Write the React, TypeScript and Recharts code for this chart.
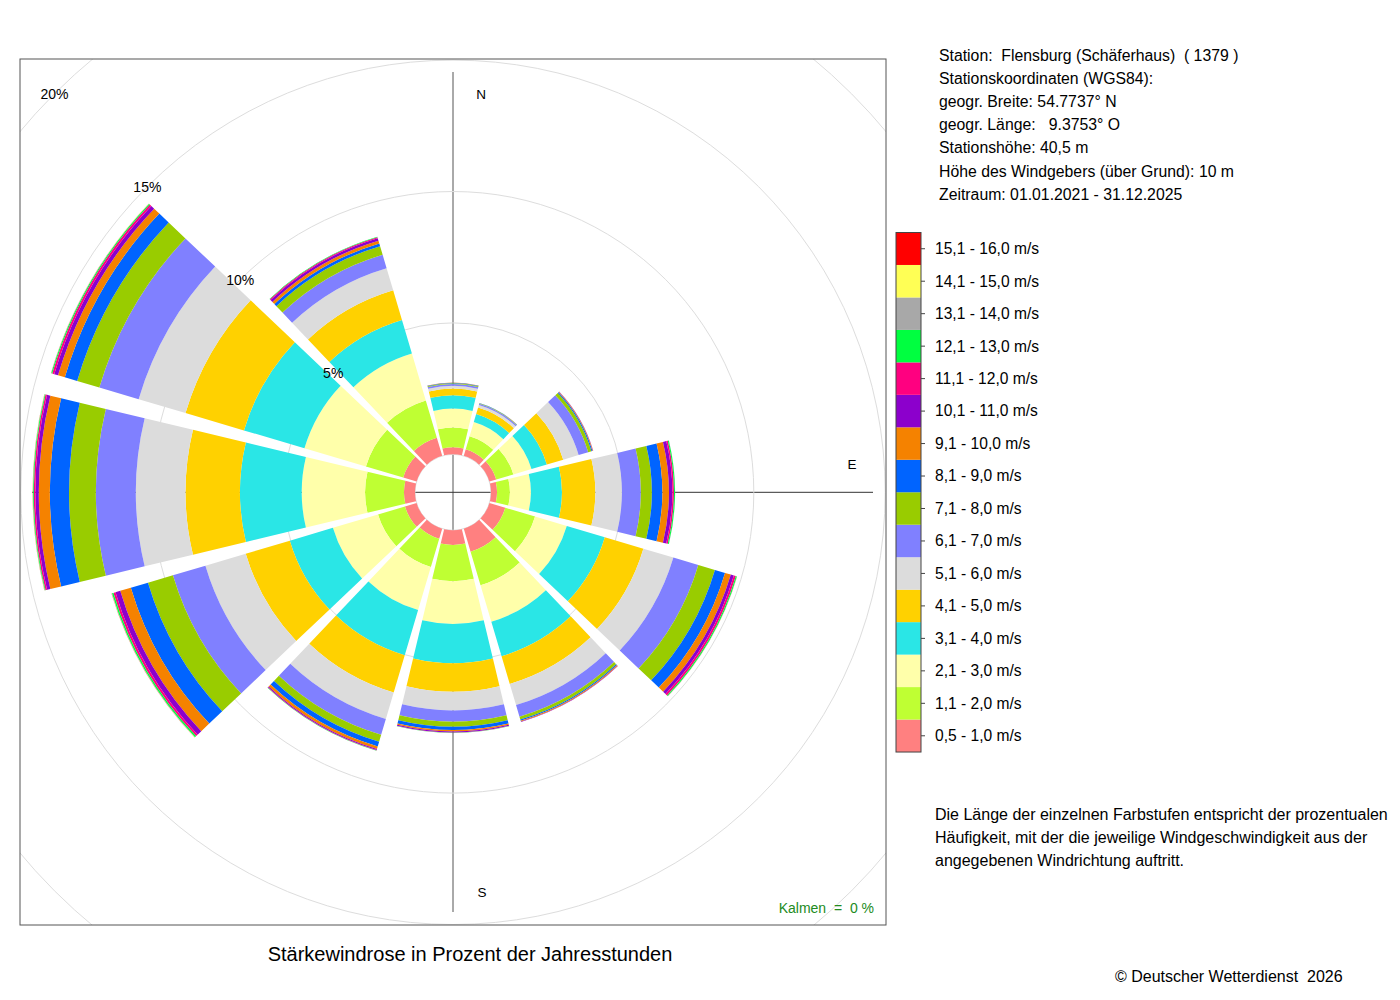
import React from "react";
import {
  PolarAngleAxis,
  PolarGrid,
  PolarRadiusAxis,
  RadialBar,
  RadialBarChart,
} from "recharts";

// Windrichtungen (12 Sektoren à 30°, im Uhrzeigersinn ab Nord)
const directions = ["N", "NNO", "ONO", "O", "OSO", "SSO", "S", "SSW", "WSW", "W", "WNW", "NNW"];

// Anteil je Geschwindigkeitsstufe in % der Jahresstunden, Reihenfolge wie directions
const f05_10 = [0.27, 0.26, 0.27, 0.23, 0.63, 0.91, 0.56, 0.4, 0.46, 0.42, 0.53, 0.72];
const f11_20 = [0.75, 0.52, 0.68, 0.49, 1.18, 1.33, 1.38, 1.12, 1.07, 1.48, 1.48, 1.48];
const f21_30 = [0.72, 0.56, 0.72, 0.8, 1.26, 1.45, 1.62, 1.71, 1.79, 2.41, 2.44, 1.86];
const f31_40 = [0.51, 0.32, 0.61, 1.18, 1.51, 1.37, 1.5, 1.79, 1.71, 2.35, 2.4, 1.33];
const f41_50 = [0.25, 0.26, 0.65, 1.27, 1.53, 1.1, 1.08, 1.48, 1.75, 2.07, 2.32, 1.18];
const f51_60 = [0.11, 0.1, 0.61, 1.01, 1.19, 0.84, 0.71, 1.05, 1.6, 1.89, 1.86, 0.88];
const f61_70 = [0.06, 0.05, 0.38, 0.72, 0.99, 0.46, 0.43, 0.63, 1.29, 1.52, 1.56, 0.53];
const f71_80 = [0.03, 0.015, 0.13, 0.42, 0.66, 0.11, 0.19, 0.27, 0.99, 1.02, 0.88, 0.34];
const f81_90 = [0.02, 0.01, 0.04, 0.4, 0.4, 0.05, 0.13, 0.19, 0.68, 0.73, 0.49, 0.11];
const f91_100 = [0.01, 0.005, 0.02, 0.25, 0.23, 0.03, 0.05, 0.1, 0.42, 0.42, 0.27, 0.11];
const f101_110 = [0, 0, 0.01, 0.13, 0.12, 0.015, 0.04, 0.04, 0.19, 0.13, 0.15, 0.1];
const f111_120 = [0, 0, 0, 0.06, 0.08, 0.005, 0.01, 0.02, 0.08, 0.06, 0.08, 0.04];
const f121_130 = [0, 0, 0, 0.04, 0.04, 0, 0.005, 0.01, 0.06, 0.03, 0.04, 0.02];
const f131_140 = [0, 0, 0, 0.005, 0.005, 0, 0, 0, 0.01, 0.01, 0.01, 0];
const f141_150 = [0, 0, 0, 0, 0.003, 0, 0, 0, 0.005, 0.005, 0.003, 0];
const f151_160 = [0, 0, 0, 0, 0.003, 0, 0, 0, 0.005, 0.003, 0.003, 0];

const speedLabels = [
  "0,5 - 1,0 m/s",
  "1,1 - 2,0 m/s",
  "2,1 - 3,0 m/s",
  "3,1 - 4,0 m/s",
  "4,1 - 5,0 m/s",
  "5,1 - 6,0 m/s",
  "6,1 - 7,0 m/s",
  "7,1 - 8,0 m/s",
  "8,1 - 9,0 m/s",
  "9,1 - 10,0 m/s",
  "10,1 - 11,0 m/s",
  "11,1 - 12,0 m/s",
  "12,1 - 13,0 m/s",
  "13,1 - 14,0 m/s",
  "14,1 - 15,0 m/s",
  "15,1 - 16,0 m/s",
];

const speedColors = [
  "#FF8080",
  "#BFFF33",
  "#FFFFAA",
  "#2AE6E6",
  "#FFD100",
  "#DCDCDC",
  "#8080FF",
  "#99CC00",
  "#0064FF",
  "#F58200",
  "#8C00CC",
  "#FF0080",
  "#00FF40",
  "#A8A8A8",
  "#FFFF55",
  "#FF0000",
];

const radiusTicks = [0, 5, 10, 15, 20];

const stationLines = [
  "Station:  Flensburg (Schäferhaus)  ( 1379 )",
  "Stationskoordinaten (WGS84):",
  "geogr. Breite: 54.7737° N",
  "geogr. Länge:   9.3753° O",
  "Stationshöhe: 40,5 m",
  "Höhe des Windgebers (über Grund): 10 m",
  "Zeitraum: 01.01.2021 - 31.12.2025",
];

const noteLines = [
  "Die Länge der einzelnen Farbstufen entspricht der prozentualen",
  "Häufigkeit, mit der die jeweilige Windgeschwindigkeit aus der",
  "angegebenen Windrichtung auftritt.",
];

const seriesValues = [
  f05_10, f11_20, f21_30, f31_40, f41_50, f51_60, f61_70, f71_80,
  f81_90, f91_100, f101_110, f111_120, f121_130, f131_140, f141_150, f151_160,
];

const data = directions.map((dir, i) => {
  const row: Record<string, any> = { dir };
  seriesValues.forEach((arr, k) => {
    row[`s${k}`] = arr[i];
  });
  return row;
});

const FONT = "'Liberation Sans', Arial, Helvetica, sans-serif";

// frame of the plot area on the page
const BOX_X = 20;
const BOX_Y = 59;
const BOX = 866;
const CX = 433;
const CY = 433.3;
const INNER_R = 38;
const OUTER_R = 38 + 26.28 * 20;

const RadiusTick = (props: any) => {
  const { x, y, payload } = props;
  if (!payload || payload.value === 0) return null;
  return (
    <text x={x} y={y + 5} textAnchor="middle" fontSize={14} fontFamily={FONT} fill="#000">
      {`${payload.value}%`}
    </text>
  );
};

const App = () => {
  const cxPage = BOX_X + CX;
  const cyPage = BOX_Y + CY;
  const legendTop = 232.5;
  const swatch = 32.47;

  return (
    <div style={{ position: "absolute", left: 0, top: 0, width: 1400, height: 1000, background: "#fff" }}>
      {/* achsenkreuz, unter den Balken */}
      <svg width={1400} height={1000} style={{ position: "absolute", left: 0, top: 0 }}>
        <line x1={cxPage} y1={72} x2={cxPage} y2={912} stroke="#555" strokeWidth={1} />
        <line x1={32} y1={cyPage} x2={873} y2={cyPage} stroke="#333" strokeWidth={1} />
      </svg>

      <div style={{ position: "absolute", left: BOX_X, top: BOX_Y, width: BOX, height: BOX, overflow: "hidden" }}>
        <RadialBarChart
          width={BOX}
          height={BOX}
          data={data}
          layout="centric"
          cx={CX}
          cy={CY}
          innerRadius={INNER_R}
          outerRadius={OUTER_R}
          startAngle={75}
          endAngle={-285}
          barCategoryGap="5%"
          margin={{ top: 0, right: 0, bottom: 0, left: 0 }}
        >
          <PolarGrid gridType="circle" radialLines={false} stroke="#dddddd" />
          <PolarAngleAxis type="category" dataKey="dir" tick={false} tickLine={false} axisLine={false} />
          <PolarRadiusAxis
            type="number"
            domain={[0, 20]}
            ticks={radiusTicks}
            angle={135}
            axisLine={false}
            tick={(p: any) => <RadiusTick {...p} />}
          />
          {speedLabels.map((label, k) => (
            <RadialBar
              key={label}
              dataKey={`s${k}`}
              name={label}
              stackId="a"
              fill={speedColors[k]}
              isAnimationActive={false}
            />
          ))}
        </RadialBarChart>
      </div>

      <svg
        width={1400}
        height={1000}
        style={{ position: "absolute", left: 0, top: 0, pointerEvents: "none" }}
        fontFamily={FONT}
      >
        <rect x={BOX_X} y={BOX_Y} width={BOX} height={BOX} fill="none" stroke="#555" strokeWidth={1} />

        <text x={481} y={99} fontSize={13.5} textAnchor="middle">N</text>
        <text x={852} y={469} fontSize={13.5} textAnchor="middle">E</text>
        <text x={482} y={897} fontSize={13.5} textAnchor="middle">S</text>

        <text x={874} y={913} fontSize={14} textAnchor="end" fill="#228B22" style={{ whiteSpace: "pre" }}>
          {"Kalmen  =  0 %"}
        </text>

        {stationLines.map((line, i) => (
          <text key={line} x={939} y={60.5 + i * 23.2} fontSize={15.8} style={{ whiteSpace: "pre" }}>
            {line}
          </text>
        ))}

        {speedLabels.map((label, k) => {
          const row = speedLabels.length - 1 - k;
          const y = legendTop + row * swatch;
          return (
            <g key={label}>
              <rect x={896} y={y} width={25} height={swatch} fill={speedColors[k]} />
              <line x1={921} y1={y + swatch / 2} x2={925} y2={y + swatch / 2} stroke="#444" />
              <text x={935} y={y + swatch / 2 + 5.4} fontSize={15.6}>
                {label}
              </text>
            </g>
          );
        })}
        <rect x={896} y={legendTop} width={25} height={swatch * 16} fill="none" stroke="#444" />

        {noteLines.map((line, i) => (
          <text key={line} x={935} y={819.5 + i * 23} fontSize={16}>
            {line}
          </text>
        ))}

        <text x={470} y={961} fontSize={20} textAnchor="middle">
          Stärkewindrose in Prozent der Jahresstunden
        </text>
        <text x={1115} y={981.5} fontSize={16} style={{ whiteSpace: "pre" }}>
          {"© Deutscher Wetterdienst  2026"}
        </text>
      </svg>
    </div>
  );
};

export default App;
